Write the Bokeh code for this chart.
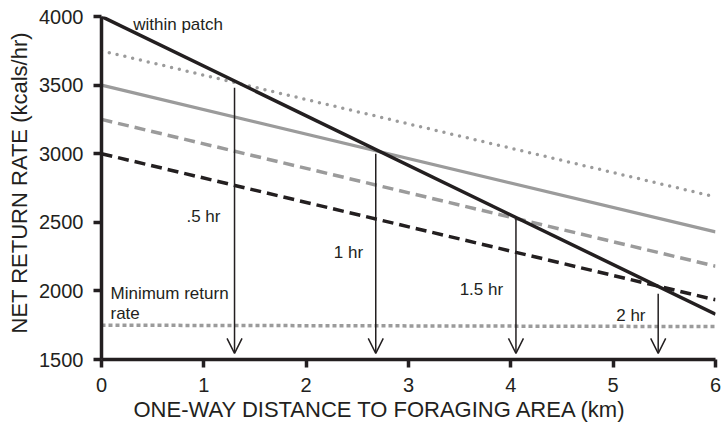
from bokeh.plotting import figure
from bokeh.models import Arrow, OpenHead, Label, FixedTicker, Title
from bokeh.embed import file_html
from bokeh.resources import INLINE

# One-way distance to the foraging area (km), endpoints of each straight line
distance = [0, 6]

# Net return rate (kcals/hr)
within_patch = [4000, 1830]
half_hour = [3750, 2685]
one_hour = [3500, 2430]
one_half_hour = [3250, 2180]
two_hour = [3000, 1935]
minimum_rate = [1750, 1740]

# Break-even distances for each foraging duration
arrow_x = [1.3, 2.68, 4.05, 5.44]
arrow_top = [3480, 3000, 2540, 1980]
arrow_bottom = [1545, 1545, 1545, 1545]
arrow_labels = [".5 hr", "1 hr", "1.5 hr", "2 hr"]
arrow_label_x = [0.83, 2.27, 3.5, 5.03]
arrow_label_y = [2540, 2278, 2009, 1820]

x_ticks = [0, 1, 2, 3, 4, 5, 6]
y_ticks = [1500, 2000, 2500, 3000, 3500, 4000]

INK = "#231f20"
GRAY = "#9b9b9b"
FONT = "Liberation Sans"

p = figure(width=722, height=429, x_range=(0, 6), y_range=(1500, 4000),
           output_backend="svg", toolbar_location=None,
           min_border_left=101, min_border_right=7,
           min_border_top=16, min_border_bottom=70)
p.outline_line_color = None
p.grid.visible = False
p.background_fill_color = "white"

for ax in (p.xaxis[0], p.yaxis[0]):
    ax.axis_line_width = 3.5
    ax.axis_line_color = INK
    ax.major_tick_line_width = 3.5
    ax.major_tick_line_color = INK
    ax.major_tick_out = 8
    ax.major_tick_in = 0
    ax.minor_tick_line_color = None
    ax.major_label_text_font = FONT
    ax.major_label_text_font_size = "20px"
    ax.major_label_text_color = INK
    ax.major_label_standoff = 10

p.xaxis.ticker = FixedTicker(ticks=x_ticks)
p.yaxis.ticker = FixedTicker(ticks=y_ticks)

p.line(distance, half_hour, line_color=GRAY, line_width=3.5,
       line_dash="0 8", line_cap="round")
p.line(distance, one_hour, line_color=GRAY, line_width=3.2)
p.line(distance, one_half_hour, line_color=GRAY, line_width=3.5, line_dash="11 6")
p.line(distance, two_hour, line_color=INK, line_width=3.5, line_dash="11 6")
p.line(distance, minimum_rate, line_color=GRAY, line_width=3.5, line_dash="4 3")
p.line(distance, within_patch, line_color=INK, line_width=3.5)

for xa, top, bot in zip(arrow_x, arrow_top, arrow_bottom):
    p.add_layout(Arrow(x_start=xa, y_start=top, x_end=xa, y_end=bot,
                       line_color=INK, line_width=1.5,
                       end=OpenHead(size=15, line_color=INK, line_width=1.5)))

for txt, lx, ly in zip(arrow_labels, arrow_label_x, arrow_label_y):
    p.add_layout(Label(x=lx, y=ly, text=txt, text_font=FONT,
                       text_font_size="17px", text_color=INK,
                       text_baseline="alphabetic"))

p.add_layout(Label(x=0.31, y=3942, text="within patch", text_font=FONT,
                   text_font_size="17px", text_color=INK, text_baseline="alphabetic"))
p.add_layout(Label(x=0.088, y=1980, text="Minimum return", text_font=FONT,
                   text_font_size="17px", text_color=INK, text_baseline="alphabetic"))
p.add_layout(Label(x=0.088, y=1835, text="rate", text_font=FONT,
                   text_font_size="17px", text_color=INK, text_baseline="alphabetic"))

# Axis titles as side panels so they can sit off-centre
p.add_layout(Title(text="NET RETURN RATE (kcals/hr)", align="left", offset=26,
                   text_font=FONT, text_font_size="22px", text_font_style="normal",
                   text_color=INK, standoff=9), "left")
p.add_layout(Title(text="ONE-WAY DISTANCE TO FORAGING AREA (km)", align="left",
                   offset=32, text_font=FONT, text_font_size="22px",
                   text_font_style="normal", text_color=INK, standoff=0), "below")

open("out.html", "w").write(file_html(p, INLINE))
